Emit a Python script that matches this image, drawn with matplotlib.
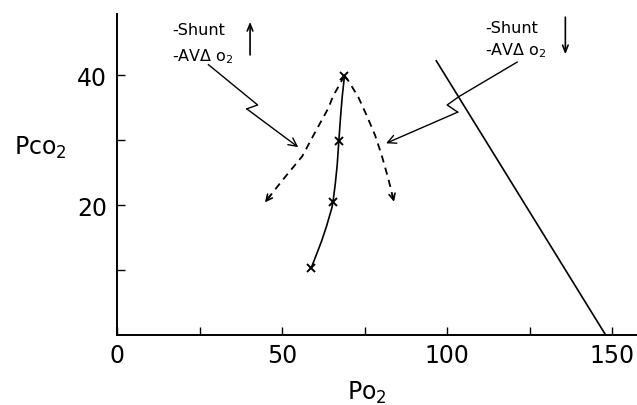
import matplotlib
matplotlib.use("Agg")
import matplotlib.pyplot as plt

# ---- data ----
solid_x = [58.8, 60.5, 62.0, 63.5, 65.1, 65.4, 66.1, 66.7, 67.2, 67.7, 68.2, 68.9]
solid_y = [10.3, 12.5, 14.5, 16.8, 19.6, 20.4, 23.2, 26.2, 29.9, 33.5, 36.6, 39.9]
marker_x = [58.8, 65.4, 67.2, 68.9]
marker_y = [10.3, 20.4, 29.9, 39.9]

left_dash_x = [68.9, 65.5, 63.9, 60.0, 56.1, 50.4, 44.8]
left_dash_y = [39.9, 36.8, 34.8, 31.2, 27.5, 24.0, 20.4]
right_dash_x = [68.9, 70.1, 73.1, 75.7, 78.2, 80.2, 82.2, 83.9]
right_dash_y = [39.9, 39.1, 36.6, 33.7, 30.7, 27.6, 24.0, 20.5]

line_x = [96.7, 148.0]
line_y = [42.2, 0.0]

zig_left_x = [27.7, 42.6, 39.3, 54.9]
zig_left_y = [41.6, 35.4, 34.8, 28.9]
zig_right_x = [121.2, 103.6, 100.0, 103.2, 81.5]
zig_right_y = [42.0, 36.7, 35.4, 34.3, 29.5]

xticks_major = [0, 50, 100, 150]
xticks_minor = [25, 75, 125]
yticks_major = [20, 40]
yticks_minor = [10, 30]

label_shunt = "-Shunt"
label_av = "-AV\u0394 o$_2$"

plt.rcParams['mathtext.default'] = 'regular'
plt.rcParams['font.family'] = ['DejaVu Sans']

fig = plt.figure(figsize=(6.37, 4.06), dpi=100)
ax = fig.add_axes([117/637, (406-336)/406, 520/637, 321/406])
ax.set_xlim(0, 157.5)
ax.set_ylim(0, 49.4)

for s in ['top', 'right']:
    ax.spines[s].set_visible(False)
for s in ['left', 'bottom']:
    ax.spines[s].set_linewidth(1.4)

ax.set_xticks(xticks_major)
ax.set_xticklabels([str(v) for v in xticks_major])
ax.set_xticks(xticks_minor, minor=True)
ax.set_yticks(yticks_major)
ax.set_yticklabels([str(v) for v in yticks_major])
ax.set_yticks(yticks_minor, minor=True)
ax.tick_params(which='both', direction='in', length=6, width=1.0, labelsize=17, pad=6)
ax.tick_params(axis='y', which='both', pad=7)

k = 'black'
ax.plot(solid_x, solid_y, color=k, lw=1.2)
ax.plot(marker_x, marker_y, ls='none', marker='x', ms=6, mew=1.4, color=k)

ax.plot(left_dash_x, left_dash_y, color=k, lw=1.3, ls=(0, (4, 3)))
ax.plot(right_dash_x, right_dash_y, color=k, lw=1.3, ls=(0, (4, 3)))


def head(xs, ys, frac=0.3):
    x0 = xs[-1] + frac * (xs[-2] - xs[-1])
    y0 = ys[-1] + frac * (ys[-2] - ys[-1])
    ax.annotate('', xy=(xs[-1], ys[-1]), xytext=(x0, y0),
                arrowprops=dict(arrowstyle='->,head_length=0.45,head_width=0.22',
                                color=k, lw=1.2, shrinkA=0, shrinkB=0))


head(left_dash_x, left_dash_y)
head(right_dash_x, right_dash_y)

ax.plot(line_x, line_y, color=k, lw=1.2)

# zigzag arrows
ax.plot(zig_left_x[:-1], zig_left_y[:-1], color=k, lw=1.0)
ax.annotate('', xy=(zig_left_x[-1], zig_left_y[-1]), xytext=(zig_left_x[-2], zig_left_y[-2]),
            arrowprops=dict(arrowstyle='->,head_length=0.6,head_width=0.3', color=k, lw=1.0, shrinkA=0, shrinkB=0))
ax.plot(zig_right_x[:-1], zig_right_y[:-1], color=k, lw=1.0)
ax.annotate('', xy=(zig_right_x[-1], zig_right_y[-1]), xytext=(zig_right_x[-2], zig_right_y[-2]),
            arrowprops=dict(arrowstyle='->,head_length=0.6,head_width=0.3', color=k, lw=1.0, shrinkA=0, shrinkB=0))

# labels in plot
ax.text(16.7, 46.3, label_shunt, fontsize=11.5, ha='left', va='baseline')
ax.text(16.7, 42.2, label_av, fontsize=11.5, ha='left', va='baseline')
ax.text(111.5, 46.6, label_shunt, fontsize=11.5, ha='left', va='baseline')
ax.text(111.5, 43.2, label_av, fontsize=11.5, ha='left', va='baseline')

vap = dict(arrowstyle='->,head_length=0.5,head_width=0.2', color=k, lw=1.2, shrinkA=0, shrinkB=0)
ax.annotate('', xy=(40.3, 48.2), xytext=(40.3, 43.1), arrowprops=vap)
ax.annotate('', xy=(135.8, 43.2), xytext=(135.8, 48.9), arrowprops=vap)

fig.text(40/637, 1 - 148/406, "Pco$_2$", fontsize=17, ha='center', va='center')
fig.text(367/637, 1 - 393/406, "Po$_2$", fontsize=17, ha='center', va='center')

fig.savefig("out.png", dpi=100, facecolor='white')
